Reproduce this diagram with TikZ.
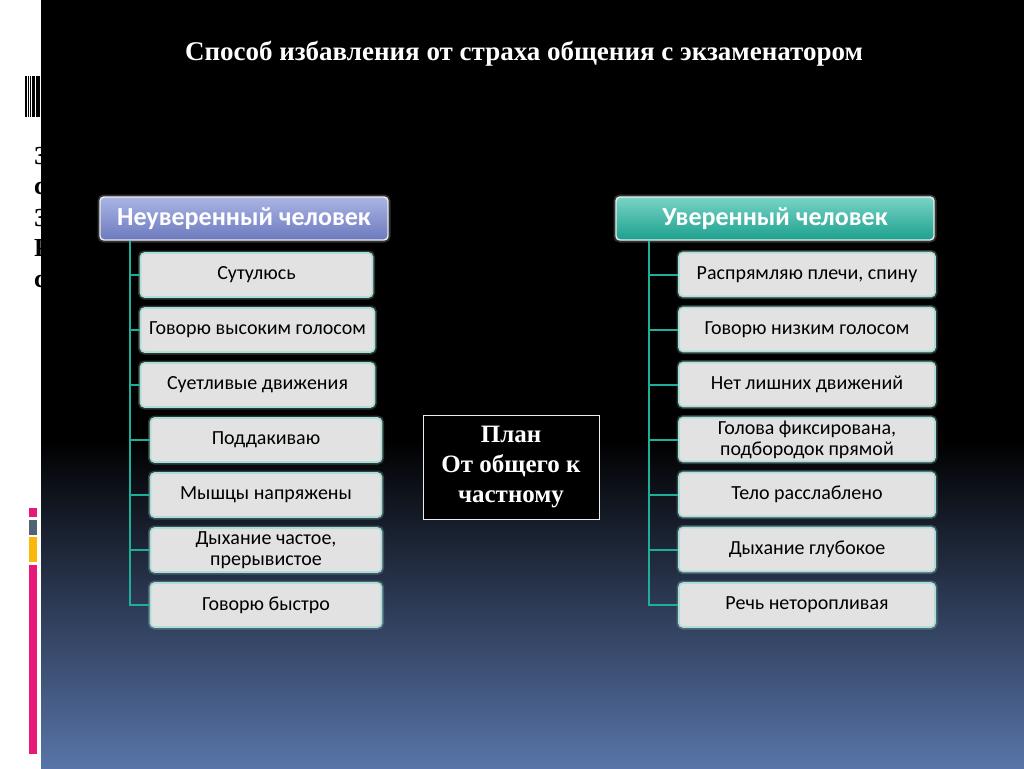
\documentclass[tikz,border=0pt]{standalone}
\usepackage{fontspec}
\setmainfont{Liberation Serif}
\newfontfamily\boxfont{Carlito}
\usetikzlibrary{positioning}
\definecolor{tealline}{RGB}{30,175,155}
\definecolor{itemgray}{RGB}{226,226,226}
\definecolor{glow}{RGB}{170,222,215}
\definecolor{deepblue}{RGB}{88,116,168}
\definecolor{lavtop}{RGB}{170,180,228}
\definecolor{lavbot}{RGB}{108,122,190}
\definecolor{tealtop}{RGB}{120,212,198}
\definecolor{tealbot}{RGB}{28,160,142}
\definecolor{barpink}{RGB}{232,24,120}
\definecolor{bargray}{RGB}{84,98,118}
\definecolor{baryellow}{RGB}{250,184,10}

\begin{document}
\begin{tikzpicture}
  [
    x=1pt, y=-1pt,
    Item/.style={rectangle, rounded corners=4pt, draw=glow, line width=1.6pt, fill=itemgray, minimum height=44pt, align=center, inner sep=1pt, font=\boxfont\fontsize{20}{21}\selectfont, preaction={draw=glow, line width=5pt, opacity=0.25}},
    Head/.style={rectangle, rounded corners=4pt, draw=white!85!gray, line width=1.4pt, minimum height=43pt, text=white, font=\boxfont\bfseries\fontsize{26}{28}\selectfont, preaction={draw=white, line width=5pt, opacity=0.2}},
    Plan/.style={rectangle, draw=white!85!gray, line width=0.8pt, fill=black, minimum width=176pt, minimum height=104pt, align=center, text=white, font=\bfseries\fontsize{25}{30}\selectfont},
    Wire/.style={draw=tealline, line width=2pt}
  ]
  % Slide
  \fill[white] (0,0) rectangle (1024,768);
  \foreach \a/\b in {25/26.7, 27.7/28.7, 30/30.7, 32/35.3, 36.3/37.7, 38.3/40}
    \fill[black] (\a,76) rectangle (\b,117);
  \node[anchor=west, inner sep=0pt, font=\bfseries\fontsize{26}{26}\selectfont] (c1) at (34,156) {З};
  \node[anchor=west, inner sep=0pt, font=\bfseries\fontsize{26}{26}\selectfont] (c2) at (34,188) {с};
  \node[anchor=west, inner sep=0pt, font=\bfseries\fontsize{26}{26}\selectfont] (c3) at (34,218) {З};
  \node[anchor=west, inner sep=0pt, font=\bfseries\fontsize{26}{26}\selectfont] (c4) at (34,248) {Р};
  \node[anchor=west, inner sep=0pt, font=\bfseries\fontsize{26}{26}\selectfont] (c5) at (34,281) {с};
  \fill[black] (41,0) rectangle (1024,768);
  \shade[top color=black, bottom color=deepblue] (41,440) rectangle (1024,768);
  \fill[barpink] (29,508) rectangle (37,517);
  \fill[bargray] (29,520) rectangle (37,535);
  \fill[baryellow] (29,537) rectangle (37,562);
  \fill[barpink] (29,565) rectangle (37,754);
  % Title
  \node[text=white, font=\bfseries\fontsize{27}{29}\selectfont] (title) at (524,54) {Способ избавления от страха общения с экзаменатором};
  % Nodes
  \node[Head, minimum width=288pt, top color=lavtop, bottom color=lavbot] (lh) at (244,218.5) {Неуверенный человек};
  \node[Head, minimum width=318pt, top color=tealtop, bottom color=tealbot] (rh) at (775,218.5) {Уверенный человек};
  \node[Item, minimum width=232pt] (l1) at (256.5,275) {Сутулюсь};
  \node[Item, minimum width=234pt] (l2) at (257.5,330) {Говорю высоким голосом};
  \node[Item, minimum width=234pt] (l3) at (257.5,385) {Суетливые движения};
  \node[Item, minimum width=231pt] (l4) at (266,440) {Поддакиваю};
  \node[Item, minimum width=231pt] (l5) at (266,495) {Мышцы напряжены};
  \node[Item, minimum width=231pt] (l6) at (266,550) {Дыхание частое,\\прерывистое};
  \node[Item, minimum width=231pt] (l7) at (266,605) {Говорю быстро};
  \node[Item, minimum width=256pt] (r1) at (807,274.5) {Распрямляю плечи, спину};
  \node[Item, minimum width=256pt] (r2) at (807,329.5) {Говорю низким голосом};
  \node[Item, minimum width=256pt] (r3) at (807,384.5) {Нет лишних движений};
  \node[Item, minimum width=256pt] (r4) at (807,439.5) {Голова фиксирована,\\подбородок прямой};
  \node[Item, minimum width=256pt] (r5) at (807,494.5) {Тело расслаблено};
  \node[Item, minimum width=256pt] (r6) at (807,549.5) {Дыхание глубокое};
  \node[Item, minimum width=256pt] (r7) at (807,605) {Речь неторопливая};
  \node[Plan] (plan) at (511,467) {План\\От общего к\\частному};
  \coordinate (lt) at (130,240.5);
  \coordinate (rt) at (649,240.5);
  % Lines
  \path [Wire] (lt) |- (l7.west);
  \path [Wire] (lt |- l1.west) -- (l1.west);
  \path [Wire] (lt |- l2.west) -- (l2.west);
  \path [Wire] (lt |- l3.west) -- (l3.west);
  \path [Wire] (lt |- l4.west) -- (l4.west);
  \path [Wire] (lt |- l5.west) -- (l5.west);
  \path [Wire] (lt |- l6.west) -- (l6.west);
  \path [Wire] (rt) |- (r7.west);
  \path [Wire] (rt |- r1.west) -- (r1.west);
  \path [Wire] (rt |- r2.west) -- (r2.west);
  \path [Wire] (rt |- r3.west) -- (r3.west);
  \path [Wire] (rt |- r4.west) -- (r4.west);
  \path [Wire] (rt |- r5.west) -- (r5.west);
  \path [Wire] (rt |- r6.west) -- (r6.west);
\end{tikzpicture}
\end{document}
